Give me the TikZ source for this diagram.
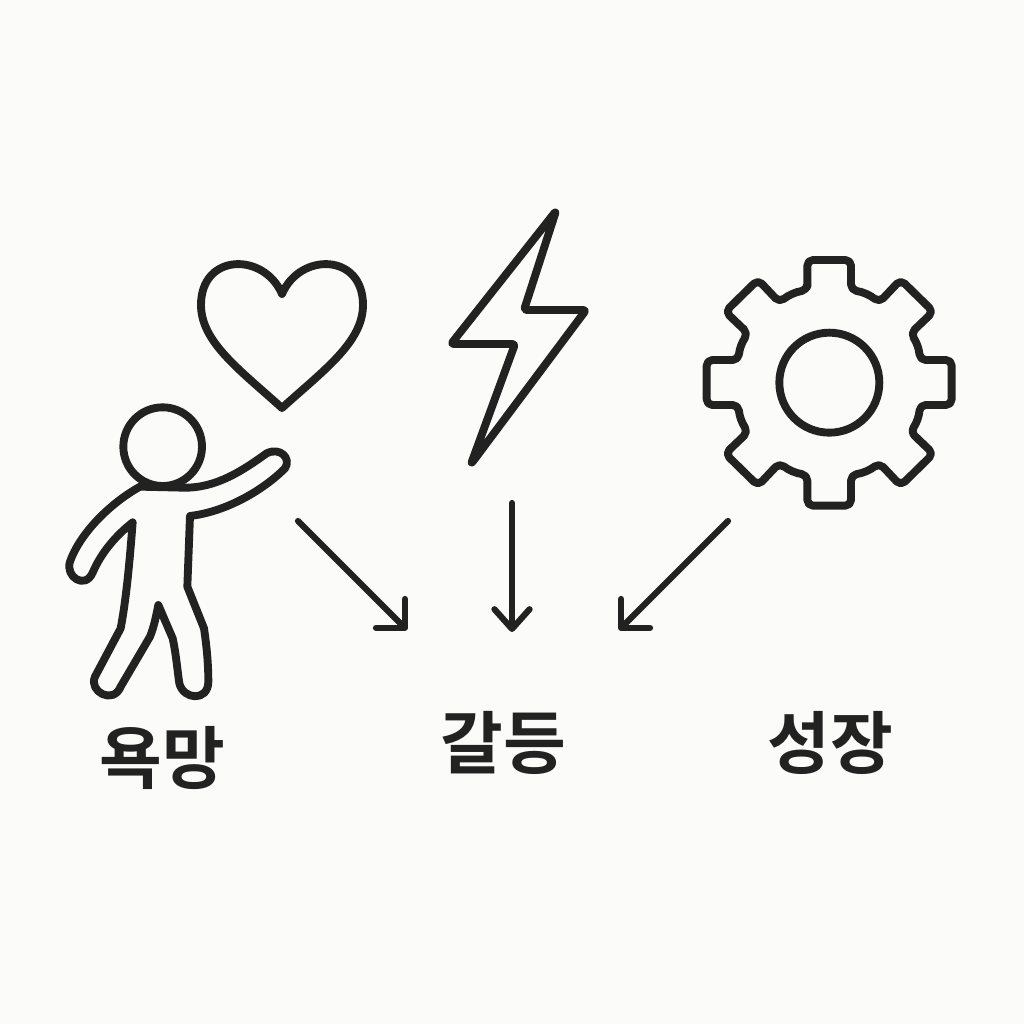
\documentclass[tikz,border=0pt]{standalone}
\usepackage{fontspec}
\newfontfamily\krfont{Noto Sans CJK KR Bold}
\usetikzlibrary{arrows.meta}
\definecolor{paper}{HTML}{FBFBF9}
\definecolor{ink}{HTML}{222222}
\tikzset{
  icon/.style={draw=ink,line width=5.6pt,line join=round,line cap=round},
  flow/.style={draw=ink,line width=4.4pt,line cap=round,-{Straight Barb[length=14.5pt,width=29pt,round,line width=4.4pt]}},
  flowdown/.style={draw=ink,line width=4.4pt,line cap=round,-{Straight Barb[length=14pt,width=25pt,round,line width=4.4pt]}},
  label/.style={text=ink,font=\krfont\fontsize{48.5pt}{49pt}\selectfont,inner sep=0pt,anchor=center}
}
\begin{document}
\begin{tikzpicture}[x=0.025cm,y=-0.025cm]
\useasboundingbox (0,0) rectangle (1024,1024);
\fill[paper] (0,0) rectangle (1024,1024);
% heart
\draw[icon] (282,408) .. controls (240,370) and (201,342) .. (201,305)
  .. controls (201,253) and (264,252) .. (282,294)
  .. controls (300,252) and (363,253) .. (363,305)
  .. controls (363,342) and (324,370) .. (282,408) -- cycle;
% bolt
\draw[icon,rounded corners=2pt] (556,211) -- (451,344) -- (515,344) -- (471,464) -- (586,310) -- (524,310) -- cycle;
% gear
\begin{scope}[shift={(690,245)},scale=1/3]
\draw[icon,rounded corners=4pt] (352,135) -- (352,45) -- (483,45) -- (483,135)
 to[bend left=14] (568,172) -- (632,104) -- (730,200) -- (662,265)
 to[bend left=14] (690,345) -- (785,345) -- (785,480) -- (690,480)
 to[bend left=14] (662,561) -- (730,626) -- (632,722) -- (568,654)
 to[bend left=14] (483,690) -- (483,782) -- (352,782) -- (352,690)
 to[bend left=14] (268,654) -- (204,722) -- (106,626) -- (174,561)
 to[bend left=14] (145,480) -- (50,480) -- (50,345) -- (145,345)
 to[bend left=14] (174,265) -- (106,200) -- (204,104) -- (268,172)
 to[bend left=14] (352,135) -- cycle;
\draw[icon] (418,413) circle[radius=150];
\end{scope}
% person
\begin{scope}[shift={(50,390)},scale=1/3]
\draw[icon] (338,170) circle[radius=118];
\draw[icon] (270,290) .. controls (180,340) and (90,430) .. (60,515)
 .. controls (45,560) and (105,600) .. (128,548)
 .. controls (155,485) and (200,435) .. (248,397)
 .. controls (240,500) and (230,620) .. (212,715)
 -- (135,860)
 .. controls (115,905) and (190,945) .. (212,890)
 -- (300,740)
 .. controls (312,710) and (318,680) .. (325,645)
 -- (368,745)
 .. controls (378,790) and (382,840) .. (388,880)
 .. controls (400,930) and (475,935) .. (475,875)
 .. controls (475,820) and (470,770) .. (462,715)
 -- (412,590) -- (420,378)
 .. controls (530,365) and (640,300) .. (705,235)
 .. controls (725,205) and (690,170) .. (650,190)
 .. controls (580,240) and (500,295) .. (400,293)
 -- cycle;
\end{scope}
% labels
\node[label] (desire) at (162,758) {욕망};
\node[label] (conflict) at (503,743) {갈등};
\node[label] (growth) at (830,743) {성장};
% arrows
\coordinate (a1s) at (298,521);
\coordinate (a1e) at (407,630);
\coordinate (a2s) at (512,503);
\coordinate (a2e) at (512,632);
\coordinate (a3s) at (728,521);
\coordinate (a3e) at (619,630);
\draw[flow] (a1s) -- (a1e);
\draw[flowdown] (a2s) -- (a2e);
\draw[flow] (a3s) -- (a3e);
\end{tikzpicture}
\end{document}
